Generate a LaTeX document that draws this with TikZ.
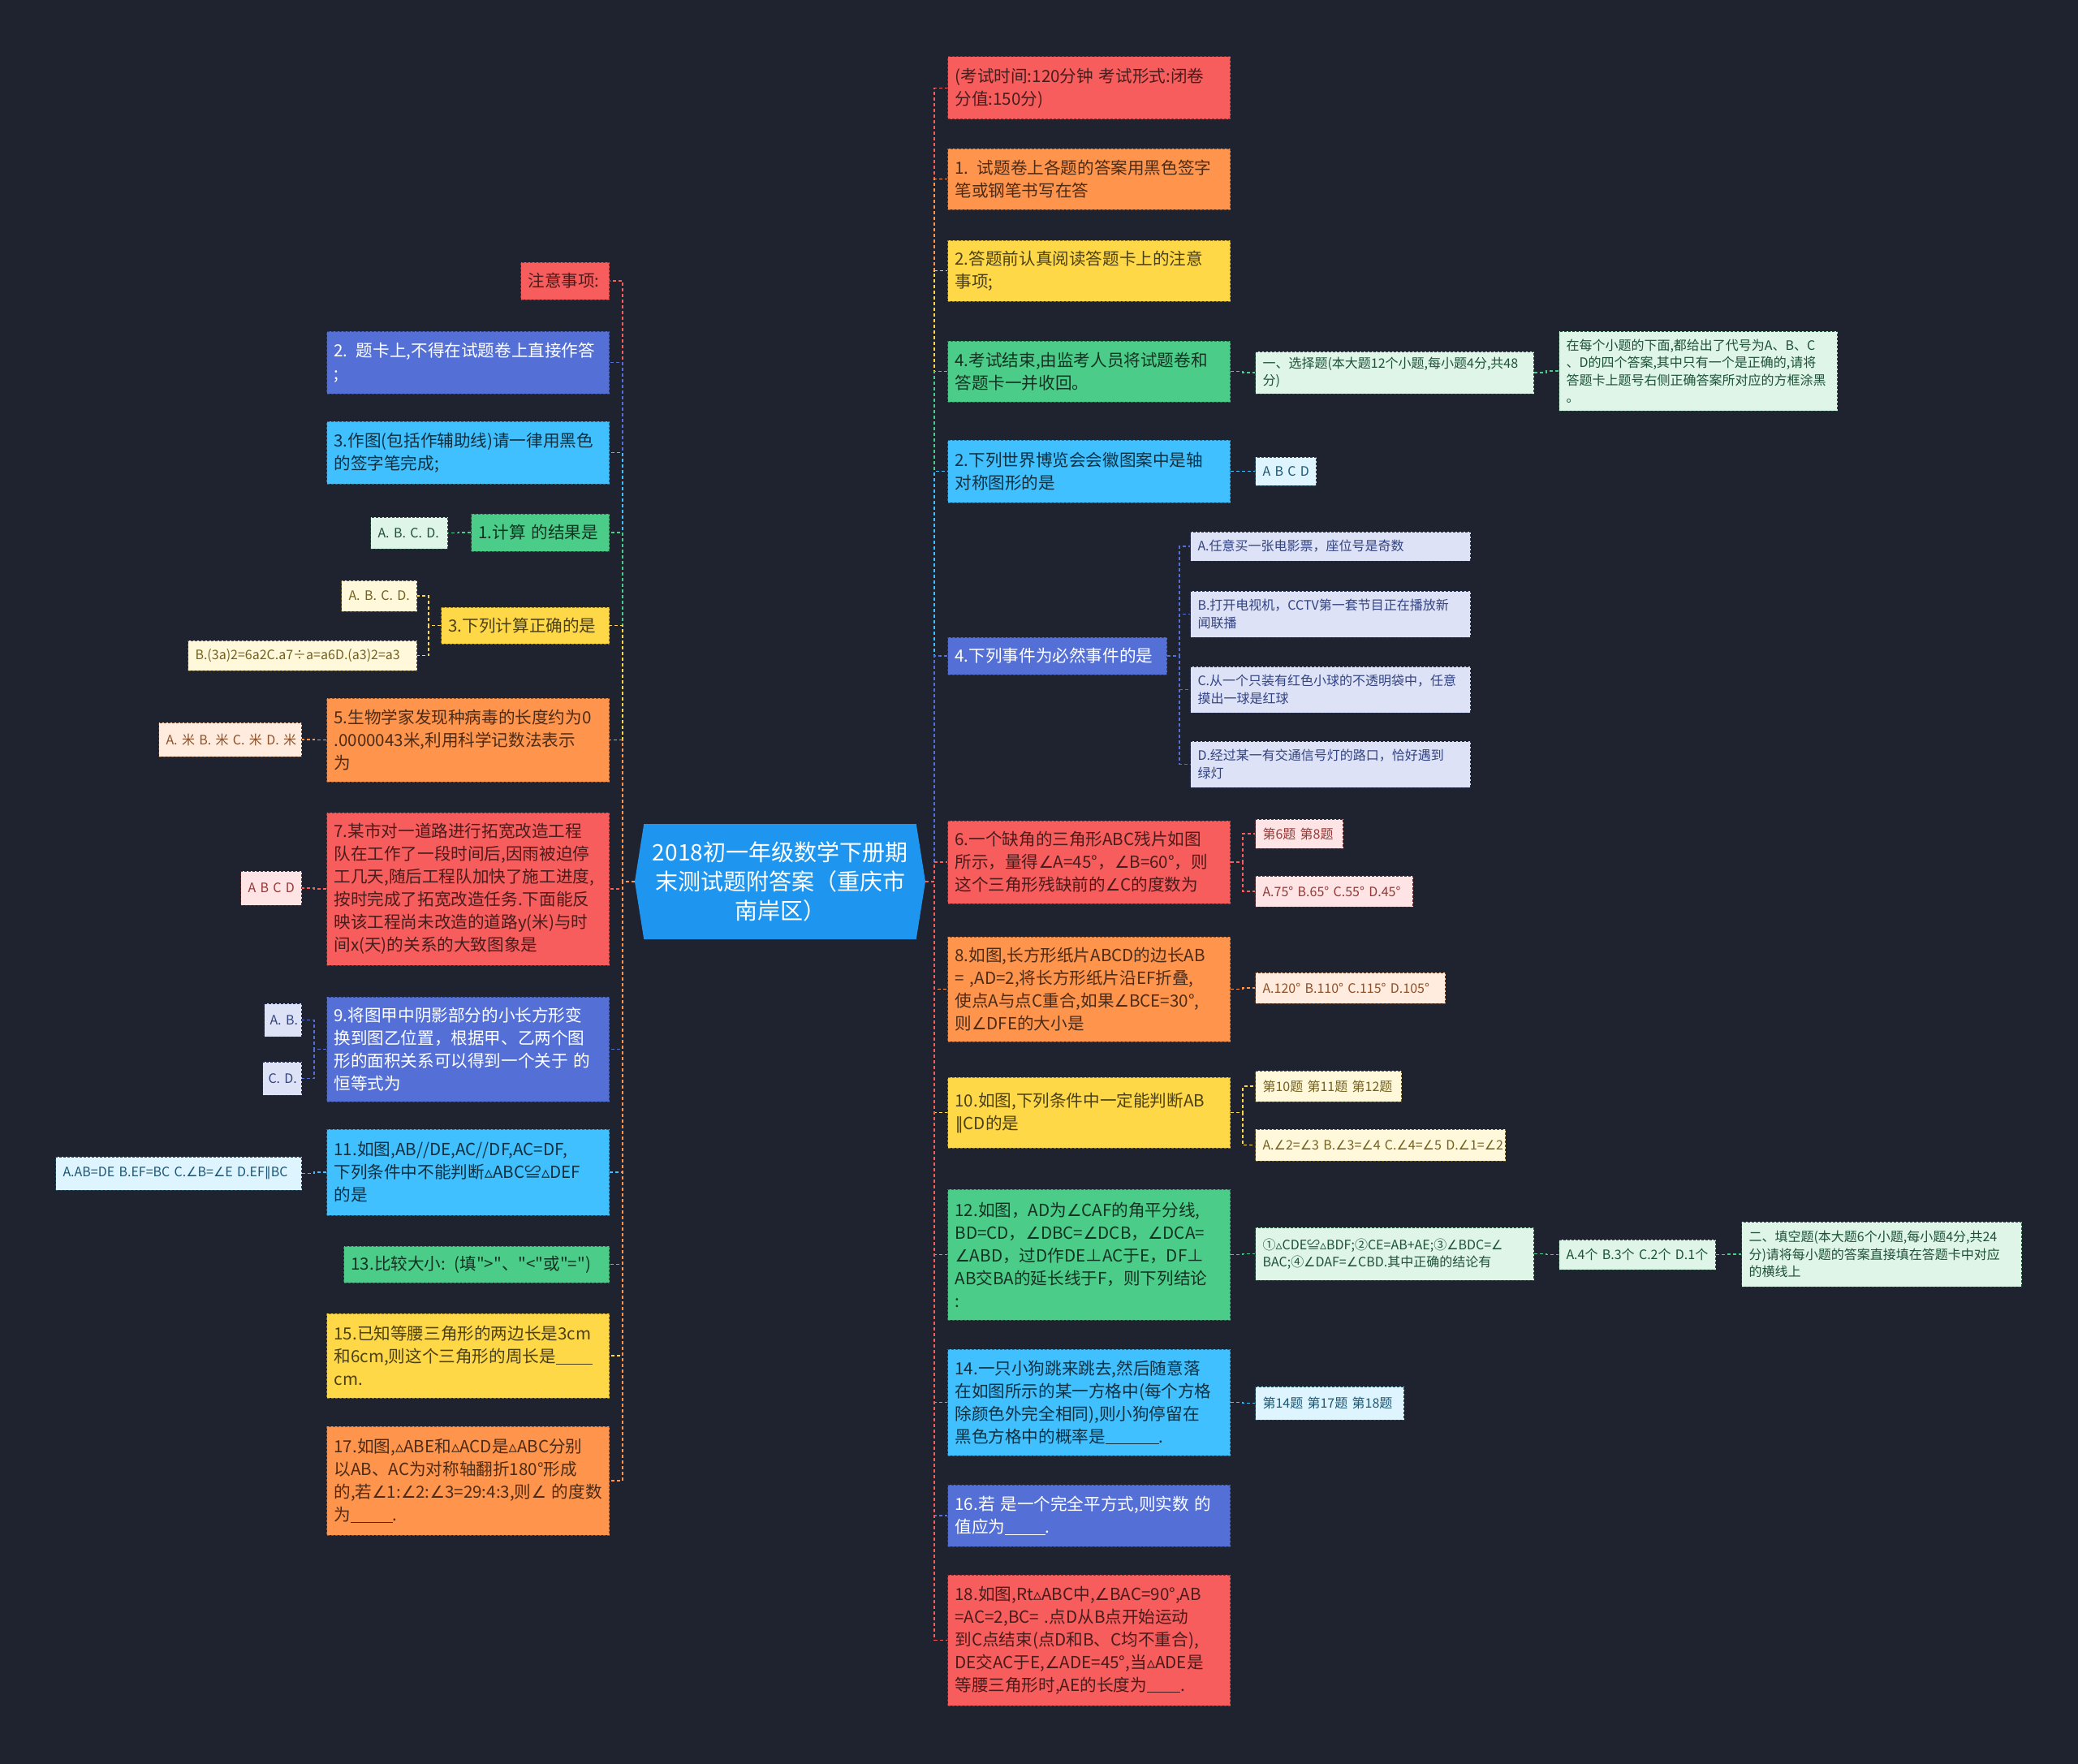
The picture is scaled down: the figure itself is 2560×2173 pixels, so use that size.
\documentclass[tikz,border=0pt]{standalone}
\usepackage{fontspec}
\setmainfont{Noto Sans CJK SC}[Ligatures=TeXOff]
\newfontfamily\symfont{DejaVu Sans}
\usepackage{newunicodechar}
\newunicodechar{∠}{{\symfont ∠}}
\newunicodechar{△}{{\symfont ▵}}
\newunicodechar{∥}{{\symfont ∥}}
\usepackage{tikz}
\usetikzlibrary{shapes.symbols, positioning}
\usepackage{xcolor}
\definecolor{bgnavy}{RGB}{31,34,47}
\definecolor{topicblue}{RGB}{30,150,240}
\definecolor{boxred}{RGB}{247,93,93}
\definecolor{boxorange}{RGB}{255,148,77}
\definecolor{boxyellow}{RGB}{255,216,72}
\definecolor{boxgreen}{RGB}{75,204,137}
\definecolor{boxcyan}{RGB}{64,192,255}
\definecolor{boxindigo}{RGB}{84,112,214}
\definecolor{leafred}{RGB}{254,228,228}
\definecolor{leaforange}{RGB}{255,236,222}
\definecolor{leafyellow}{RGB}{255,248,218}
\definecolor{leafgreen}{RGB}{222,245,232}
\definecolor{leafcyan}{RGB}{222,245,255}
\definecolor{leafindigo}{RGB}{222,226,246}
\tikzset{box/.style={rectangle, dash pattern=on 3pt off 2pt, line width=1pt, inner xsep=9pt, inner ysep=4pt, align=left, font=\fontsize{20.6}{28}\selectfont},leaf/.style={box, font=\fontsize{16}{21.5}\selectfont}}
\tikzset{linkline/.style={dash pattern=on 4pt off 3pt, line width=1.5pt}}

\begin{document}
\begin{tikzpicture}[
        x=1pt, y=-1pt,
        redbox/.style={box, fill=boxred, draw=boxred!55!black, text=boxred!30!black},
        orangebox/.style={box, fill=boxorange, draw=boxorange!55!black, text=boxorange!30!black},
        yellowbox/.style={box, fill=boxyellow, draw=boxyellow!55!black, text=boxyellow!30!black},
        greenbox/.style={box, fill=boxgreen, draw=boxgreen!55!black, text=boxgreen!25!black},
        cyanbox/.style={box, fill=boxcyan, draw=boxcyan!55!black, text=boxcyan!25!black},
        indigobox/.style={box, fill=boxindigo, draw=boxindigo!55!black, text=white},
        redleaf/.style={leaf, fill=leafred, draw=boxred!40!black, text=boxred!60!black},
        orangeleaf/.style={leaf, fill=leaforange, draw=boxorange!40!black, text=boxorange!55!black},
        yellowleaf/.style={leaf, fill=leafyellow, draw=boxyellow!40!black, text=boxyellow!45!black},
        greenleaf/.style={leaf, fill=leafgreen, draw=boxgreen!40!black, text=boxgreen!40!black},
        cyanleaf/.style={leaf, fill=leafcyan, draw=boxcyan!40!black, text=boxcyan!45!black},
        indigoleaf/.style={leaf, fill=leafindigo, draw=boxindigo!40!black, text=boxindigo!60!black}
    ]
        % Background
        \fill[bgnavy] (0,0) rectangle (2560,2173);
        \useasboundingbox (0,0) rectangle (2560,2173);
        % Topic
        \node[signal, signal to=west and east, signal pointer angle=162, fill=topicblue, text=white, align=center, minimum width=358pt, minimum height=142pt, inner sep=2pt, font=\fontsize{28}{36}\selectfont] (root) at (961,1086) {2018初一年级数学下册期\\末测试题附答案（重庆市\\南岸区）};
        % Right branches
        \node[redbox, anchor=west, text width=330pt, minimum height=77pt] (r1) at (1167,108.5) {\mbox{(考试时间:120分钟 考试形式:闭卷}\\分值:150分)};
        \node[orangebox, anchor=west, text width=330pt, minimum height=75pt] (r2) at (1167,220.5) {\mbox{1. 试题卷上各题的答案用黑色签字}\\笔或钢笔书写在答};
        \node[yellowbox, anchor=west, text width=330pt, minimum height=75pt] (r3) at (1167,333.5) {2.答题前认真阅读答题卡上的注意\\事项;};
        \node[greenbox, anchor=west, text width=330pt, minimum height=75pt] (r4) at (1167,457.5) {4.考试结束,由监考人员将试题卷和\\答题卡一并收回。};
        \node[cyanbox, anchor=west, text width=330pt, minimum height=77pt] (r5) at (1167,580.5) {2.下列世界博览会会徽图案中是轴\\对称图形的是};
        \node[indigobox, anchor=west, text width=252pt, minimum height=46pt] (r6) at (1167,808) {4.下列事件为必然事件的是};
        \node[redbox, anchor=west, text width=330pt, minimum height=102pt] (r7) at (1167,1062) {6.一个缺角的三角形ABC残片如图\\所示，量得∠A=45°，∠B=60°，则\\这个三角形残缺前的∠C的度数为};
        \node[orangebox, anchor=west, text width=330pt, minimum height=129pt] (r8) at (1167,1218.5) {8.如图,长方形纸片ABCD的边长AB\\\mbox{= ,AD=2,将长方形纸片沿EF折叠,}\\使点A与点C重合,如果∠BCE=30°,\\则∠DFE的大小是};
        \node[yellowbox, anchor=west, text width=330pt, minimum height=87pt] (r9) at (1167,1370.5) {10.如图,下列条件中一定能判断AB\\∥CD的是};
        \node[greenbox, anchor=west, text width=330pt, minimum height=161pt] (r10) at (1167,1545.5) {12.如图，AD为∠CAF的角平分线,\\BD=CD，∠DBC=∠DCB，∠DCA=\\∠ABD，过D作DE⊥AC于E，DF⊥\\AB交BA的延长线于F，则下列结论\\:};
        \node[cyanbox, anchor=west, text width=330pt, minimum height=131pt] (r11) at (1167,1727.5) {14.一只小狗跳来跳去,然后随意落\\在如图所示的某一方格中(每个方格\\除颜色外完全相同),则小狗停留在\\黑色方格中的概率是\underline{\hspace{3.2em}}.};
        \node[indigobox, anchor=west, text width=330pt, minimum height=76pt] (r12) at (1167,1867) {\mbox{16.若 是一个完全平方式,则实数 的}\\值应为\underline{\hspace{2.4em}}.};
        \node[redbox, anchor=west, text width=330pt, minimum height=161pt] (r13) at (1167,2020.5) {18.如图,Rt△ABC中,∠BAC=90°,AB\\\mbox{=AC=2,BC= .点D从B点开始运动}\\到C点结束(点D和B、C均不重合),\\DE交AC于E,∠ADE=45°,当△ADE是\\等腰三角形时,AE的长度为\underline{\hspace{2em}}.};
        % Right leaves
        \node[greenleaf, anchor=west, text width=325pt, minimum height=52pt] (r4a) at (1546,459) {一、选择题(本大题12个小题,每小题4分,共48\\分)};
        \node[greenleaf, anchor=west, text width=325pt, minimum height=98pt] (r4b) at (1920,457) {在每个小题的下面,都给出了代号为A、B、C\\、D的四个答案,其中只有一个是正确的,请将\\答题卡上题号右侧正确答案所对应的方框涂黑\\。};
        \node[cyanleaf, anchor=west, text width=57pt, minimum height=35pt] (r5a) at (1546,580.5) {\mbox{A B C D}};
        \node[indigoleaf, anchor=west, text width=327pt, minimum height=36pt] (r6a) at (1466,673) {A.任意买一张电影票，座位号是奇数};
        \node[indigoleaf, anchor=west, text width=327pt, minimum height=57pt] (r6b) at (1466,756.5) {B.打开电视机，CCTV第一套节目正在播放新\\闻联播};
        \node[indigoleaf, anchor=west, text width=327pt, minimum height=57pt] (r6c) at (1466,849.5) {C.从一个只装有红色小球的不透明袋中，任意\\摸出一球是红球};
        \node[indigoleaf, anchor=west, text width=327pt, minimum height=57pt] (r6d) at (1466,941.5) {D.经过某一有交通信号灯的路口，恰好遇到\\绿灯};
        \node[redleaf, anchor=west, text width=90pt, minimum height=36pt] (r7a) at (1546,1027) {\mbox{第6题 第8题}};
        \node[redleaf, anchor=west, text width=176pt, minimum height=38pt] (r7b) at (1546,1098) {\mbox{A.75° B.65° C.55° D.45°}};
        \node[orangeleaf, anchor=west, text width=216pt, minimum height=38pt] (r8a) at (1546,1217) {\mbox{A.120° B.110° C.115° D.105°}};
        \node[yellowleaf, anchor=west, text width=162pt, minimum height=38pt] (r9a) at (1546,1338) {\mbox{第10题 第11题 第12题}};
        \node[yellowleaf, anchor=west, text width=290pt, minimum height=39pt] (r9b) at (1546,1410.5) {\mbox{A.∠2=∠3 B.∠3=∠4 C.∠4=∠5 D.∠1=∠2}};
        \node[greenleaf, anchor=west, text width=325pt, minimum height=65pt] (r10a) at (1546,1544.5) {①△CDE≌△BDF;②CE=AB+AE;③∠BDC=∠\\BAC;④∠DAF=∠CBD.其中正确的结论有};
        \node[greenleaf, anchor=west, text width=175pt, minimum height=37pt] (r10b) at (1920,1545.5) {\mbox{A.4个 B.3个 C.2个 D.1个}};
        \node[greenleaf, anchor=west, text width=327pt, minimum height=80pt] (r10c) at (2145,1545) {二、填空题(本大题6个小题,每小题4分,共24\\分)请将每小题的答案直接填在答题卡中对应\\的横线上};
        \node[cyanleaf, anchor=west, text width=165pt, minimum height=41pt] (r11a) at (1546,1728.5) {\mbox{第14题 第17题 第18题}};
        % Left branches
        \node[redbox, anchor=east, text width=91pt, minimum height=46pt] (l1) at (751,346) {注意事项:};
        \node[indigobox, anchor=east, text width=330pt, minimum height=77pt] (l2) at (751,446.5) {\mbox{2. 题卡上,不得在试题卷上直接作答}\\;};
        \node[cyanbox, anchor=east, text width=330pt, minimum height=77pt] (l3) at (751,557.5) {3.作图(包括作辅助线)请一律用黑色\\的签字笔完成;};
        \node[greenbox, anchor=east, text width=152pt, minimum height=46pt] (l4) at (751,656) {\mbox{1.计算 的结果是}};
        \node[yellowbox, anchor=east, text width=189pt, minimum height=45pt] (l5) at (751,770.5) {3.下列计算正确的是};
        \node[orangebox, anchor=east, text width=330pt, minimum height=103pt] (l6) at (751,911.5) {5.生物学家发现种病毒的长度约为0\\.0000043米,利用科学记数法表示\\为};
        \node[redbox, anchor=east, text width=330pt, minimum height=188pt] (l7) at (751,1095) {7.某市对一道路进行拓宽改造工程\\队在工作了一段时间后,因雨被迫停\\工几天,随后工程队加快了施工进度,\\按时完成了拓宽改造任务.下面能反\\映该工程尚未改造的道路y(米)与时\\间x(天)的关系的大致图象是};
        \node[indigobox, anchor=east, text width=330pt, minimum height=129pt] (l8) at (751,1292.5) {9.将图甲中阴影部分的小长方形变\\换到图乙位置，根据甲、乙两个图\\\mbox{形的面积关系可以得到一个关于 的}\\恒等式为};
        \node[cyanbox, anchor=east, text width=330pt, minimum height=106pt] (l9) at (751,1444) {11.如图,AB//DE,AC//DF,AC=DF,\\下列条件中不能判断△ABC≌△DEF\\的是};
        \node[greenbox, anchor=east, text width=309pt, minimum height=45pt] (l10) at (751,1557.5) {\mbox{13.比较大小: (填">"、"<"或"=")}};
        \node[yellowbox, anchor=east, text width=330pt, minimum height=104pt] (l11) at (751,1670) {15.已知等腰三角形的两边长是3cm\\和6cm,则这个三角形的周长是\underline{\hspace{2.2em}}\\cm.};
        \node[orangebox, anchor=east, text width=330pt, minimum height=134pt] (l12) at (751,1824) {17.如图,△ABE和△ACD是△ABC分别\\以AB、AC为对称轴翻折180°形成\\\mbox{的,若∠1:∠2:∠3=29:4:3,则∠ 的度数}\\为\underline{\hspace{2.5em}}.};
        % Left leaves
        \node[greenleaf, anchor=east, text width=77pt, minimum height=39pt] (l4a) at (552,656.5) {\mbox{A. B. C. D.}};
        \node[yellowleaf, anchor=east, text width=75pt, minimum height=38pt] (l5a) at (514,734) {\mbox{A. B. C. D.}};
        \node[yellowleaf, anchor=east, text width=264pt, minimum height=37pt] (l5b) at (514,807.5) {B.(3a)2=6a2C.a7÷a=a6D.(a3)2=a3};
        \node[orangeleaf, anchor=east, text width=158pt, minimum height=42pt] (l6a) at (372,911) {\mbox{A. 米 B. 米 C. 米 D. 米}};
        \node[redleaf, anchor=east, text width=57pt, minimum height=42pt] (l7a) at (372,1094) {\mbox{A B C D}};
        \node[indigoleaf, anchor=east, text width=32pt, inner xsep=7pt, minimum height=41pt] (l8a) at (372,1256.5) {\mbox{A. B.}};
        \node[indigoleaf, anchor=east, text width=34pt, inner xsep=7pt, minimum height=41pt] (l8b) at (372,1328.5) {\mbox{C. D.}};
        \node[cyanleaf, anchor=east, text width=285pt, minimum height=41pt] (l9a) at (372,1445.5) {\mbox{A.AB=DE B.EF=BC C.∠B=∠E D.EF∥BC}};
        % Links
        \foreach \n/\c in {r1/boxred, r2/boxorange, r3/boxyellow, r4/boxgreen, r5/boxcyan, r6/boxindigo, r7/boxred, r8/boxorange, r9/boxyellow, r10/boxgreen, r11/boxcyan, r12/boxindigo, r13/boxred} {
            \draw[linkline, \c] (root.east) -- ++(11,0) |- (\n.west);
        }
        \foreach \n/\c in {l1/boxred, l2/boxindigo, l3/boxcyan, l4/boxgreen, l5/boxyellow, l6/boxorange, l7/boxred, l8/boxindigo, l9/boxcyan, l10/boxgreen, l11/boxyellow, l12/boxorange} {
            \draw[linkline, \c] (root.west) -- ++(-15,0) |- (\n.east);
        }
        \foreach \p/\n/\c in {r4/r4a/boxgreen, r4a/r4b/boxgreen, r5/r5a/boxcyan, r6/r6a/boxindigo, r6/r6b/boxindigo, r6/r6c/boxindigo, r6/r6d/boxindigo, r7/r7a/boxred, r7/r7b/boxred, r8/r8a/boxorange, r9/r9a/boxyellow, r9/r9b/boxyellow, r10/r10a/boxgreen, r10a/r10b/boxgreen, r10b/r10c/boxgreen, r11/r11a/boxcyan} {
            \draw[linkline, \c] (\p.east) -- ++(15,0) |- (\n.west);
        }
        \foreach \p/\n/\c in {l4/l4a/boxgreen, l5/l5a/boxyellow, l5/l5b/boxyellow, l6/l6a/boxorange, l7/l7a/boxred, l8/l8a/boxindigo, l8/l8b/boxindigo, l9/l9a/boxcyan} {
            \draw[linkline, \c] (\p.west) -- ++(-15,0) |- (\n.east);
        }
    \end{tikzpicture}
\end{document}
